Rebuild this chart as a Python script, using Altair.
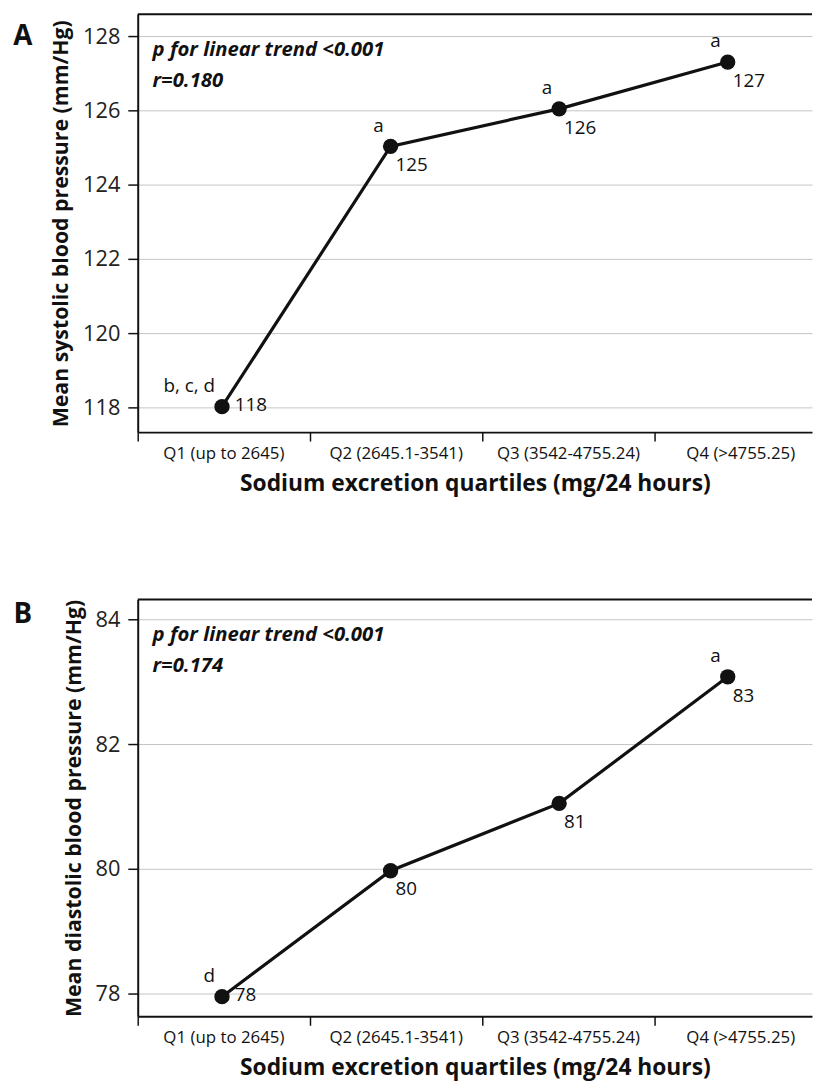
import altair as alt
import pandas as pd

categories = ["Q1 (up to 2645)", "Q2 (2645.1-3541)", "Q3 (3542-4755.24)", "Q4 (>4755.25)"]

sbp_values = [118.02, 125.03, 126.04, 127.30]
sbp_labels = ["118", "125", "126", "127"]
sbp_letters = ["b, c, d", "a", "a", "a"]
sbp_ticks = [118, 120, 122, 124, 126, 128]

dbp_values = [77.95, 79.97, 81.05, 83.08]
dbp_labels = ["78", "80", "81", "83"]
dbp_letters = ["d", "", "", "a"]
dbp_ticks = [78, 80, 82, 84]

x_title = "Sodium excretion quartiles (mg/24 hours)"
FONT = "Open Sans"
INK = "#111111"
W = 681


def panel(letter, values, labels, letters, ticks, ydomain, ytitle, ptext, rtext, H, letter_y):
    df = pd.DataFrame({
        "idx": list(range(len(categories))),
        "category": categories,
        "value": values,
        "vlabel": labels,
        "letter": letters,
    })
    df["mid"] = df["idx"] + 0.5

    pt_scale = alt.Scale(domain=[-0.5, 3.5], nice=False, zero=False)
    ax_scale = alt.Scale(domain=[0, W / 174.0], nice=False, zero=False)
    yscale = alt.Scale(domain=ydomain, nice=False, zero=False)

    base = alt.Chart(df)
    xp = alt.X("idx:Q", scale=pt_scale, axis=None)

    line = base.mark_line(color=INK, strokeWidth=3.2).encode(
        x=xp,
        y=alt.Y("value:Q", scale=yscale, title=ytitle,
                axis=alt.Axis(values=ticks, format="d", grid=True, gridColor="#c4c4c4", gridWidth=1,
                              tickSize=10, tickColor=INK, tickWidth=1.5,
                              domainColor=INK, domainWidth=2,
                              labelFont=FONT, labelFontSize=22, labelColor="#222222",
                              labelPadding=8,
                              titleFont=FONT, titleFontSize=21.5, titleFontWeight="bold",
                              titleColor=INK, titlePadding=10)),
    )
    pts = base.mark_point(filled=True, size=240, color=INK, opacity=1).encode(
        x=xp, y=alt.Y("value:Q"))

    first_lbl = base.transform_filter("datum.idx == 0").mark_text(
        align="left", baseline="middle", dx=13, dy=-2, font=FONT, fontSize=19, color=INK
    ).encode(x=xp, y=alt.Y("value:Q"), text="vlabel:N")
    other_lbl = base.transform_filter("datum.idx > 0").mark_text(
        align="left", baseline="middle", dx=5, dy=19, font=FONT, fontSize=19, color=INK
    ).encode(x=xp, y=alt.Y("value:Q"), text="vlabel:N")
    letter_lbl = base.mark_text(
        align="right", baseline="middle", dx=-7, dy=-21, font=FONT, fontSize=19, color=INK
    ).encode(x=xp, y=alt.Y("value:Q"), text="letter:N")

    xaxis = base.mark_text(
        align="center", baseline="middle", font=FONT, fontSize=17, color=INK
    ).encode(
        x=alt.X("mid:Q", scale=ax_scale, title=x_title,
                axis=alt.Axis(values=[0, 1, 2, 3], labels=False, grid=False,
                              tickSize=9, tickColor=INK, tickWidth=1.5,
                              domainColor=INK, domainWidth=2,
                              titleFont=FONT, titleFontSize=23, titleFontWeight="bold",
                              titleColor=INK, titlePadding=31)),
        y=alt.value(H + 22),
        text="category:N",
    )

    top = alt.Chart(pd.DataFrame({"k": [0]})).mark_rule(color=INK, strokeWidth=2).encode(
        x=alt.value(0), x2=alt.value(W), y=alt.value(0))

    ann1 = alt.Chart(pd.DataFrame({"t": [ptext]})).mark_text(
        align="left", baseline="middle", font=FONT, fontSize=20.5, fontStyle="italic",
        fontWeight="bold", color=INK
    ).encode(x=alt.value(15), y=alt.value(36), text="t:N")
    ann2 = alt.Chart(pd.DataFrame({"t": [rtext]})).mark_text(
        align="left", baseline="middle", font=FONT, fontSize=20.5, fontStyle="italic",
        fontWeight="bold", color=INK
    ).encode(x=alt.value(15), y=alt.value(67), text="t:N")

    lab = alt.Chart(pd.DataFrame({"t": [letter]})).mark_text(
        align="center", baseline="middle", font=FONT, fontSize=28, fontWeight="bold", color=INK
    ).encode(x=alt.value(-116), y=alt.value(letter_y), text="t:N")

    return alt.layer(
        line, pts, first_lbl, other_lbl, letter_lbl, xaxis, top, ann1, ann2, lab
    ).resolve_scale(x="independent").properties(width=W, height=H)


pa = panel("A", sbp_values, sbp_labels, sbp_letters, sbp_ticks, [117.333, 128.587],
           "Mean systolic blood pressure (mm/Hg)",
           "p for linear trend <0.001", "r=0.180", 422, 23)
pb = panel("B", dbp_values, dbp_labels, dbp_letters, dbp_ticks, [77.635, 84.32],
           "Mean diastolic blood pressure (mm/Hg)",
           "p for linear trend <0.001", "r=0.174", 421, 16)

chart = alt.vconcat(pa, pb, spacing=104).properties(
    padding={"left": 5, "top": 0, "right": 0, "bottom": 0}
).configure_view(stroke=None)

chart.save("out.html", embed_options={"renderer": "svg", "actions": False})
